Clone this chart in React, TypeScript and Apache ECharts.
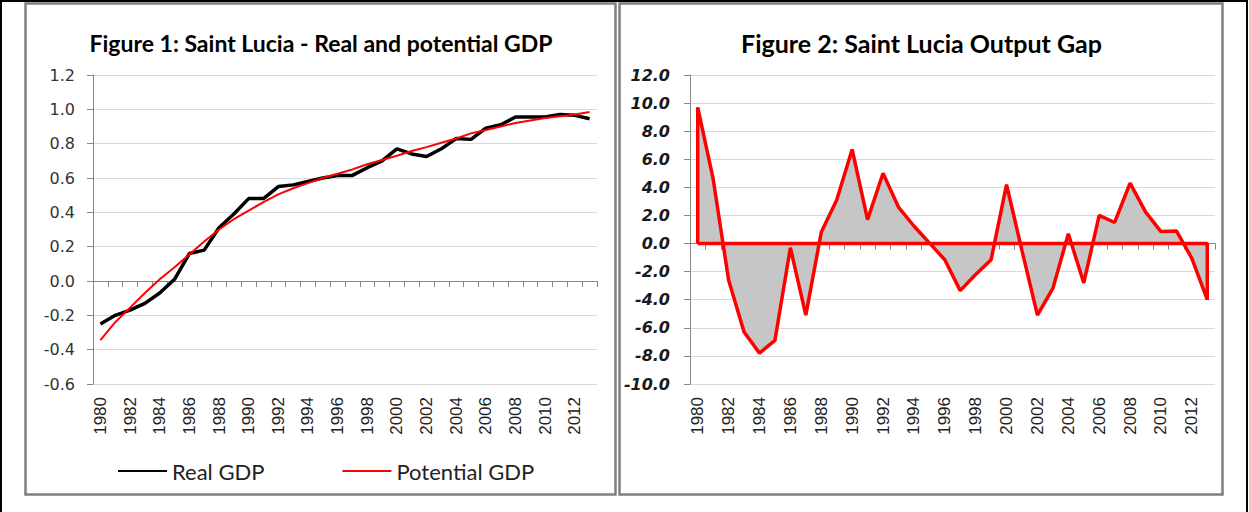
import React, { useEffect, useRef } from 'react';
import * as echarts from 'echarts';

const years = [
  '1980', '1981', '1982', '1983', '1984', '1985', '1986', '1987', '1988', '1989',
  '1990', '1991', '1992', '1993', '1994', '1995', '1996', '1997', '1998', '1999',
  '2000', '2001', '2002', '2003', '2004', '2005', '2006', '2007', '2008', '2009',
  '2010', '2011', '2012', '2013',
];

const realGdp = [
  -0.25, -0.2, -0.17, -0.13, -0.07, 0.01, 0.16, 0.18, 0.31, 0.39,
  0.48, 0.48, 0.55, 0.56, 0.58, 0.6, 0.615, 0.615, 0.66, 0.7,
  0.77, 0.74, 0.725, 0.77, 0.83, 0.825, 0.89, 0.91, 0.955, 0.955,
  0.955, 0.97, 0.965, 0.945,
];

const potentialGdp = [
  -0.345, -0.24, -0.155, -0.07, 0.01, 0.08, 0.155, 0.23, 0.3, 0.36,
  0.41, 0.46, 0.505, 0.54, 0.57, 0.6, 0.625, 0.65, 0.68, 0.705,
  0.73, 0.757, 0.78, 0.805, 0.83, 0.86, 0.88, 0.9, 0.92, 0.935,
  0.95, 0.96, 0.97, 0.985,
];

const outputGap = [
  9.7, 4.6, -2.6, -6.3, -7.8, -6.9, -0.3, -5.1, 0.8, 3.1,
  6.7, 1.7, 5.0, 2.6, 1.25, 0.05, -1.15, -3.35, -2.2, -1.15,
  4.2, -0.5, -5.1, -3.2, 0.7, -2.8, 2.0, 1.5, 4.3, 2.25,
  0.85, 0.9, -1.05, -4.0,
];

const title1 = 'Figure 1: Saint Lucia - Real and potential GDP';
const title2 = 'Figure 2: Saint Lucia Output Gap';
const legendNames = ['Real GDP', 'Potential GDP'];

const gdpAxis = { min: -0.6, max: 1.2, interval: 0.2 };
const gapAxis = { min: -10, max: 12, interval: 2 };

const fmt = (v: number) => (Math.abs(v) < 1e-9 ? 0 : v).toFixed(1);

export default function App() {
  const ref = useRef<HTMLDivElement>(null);

  useEffect(() => {
    if (!ref.current) return;
    const chart = echarts.init(ref.current, undefined, { renderer: 'svg' });

    const outline: [number, number][] = [[0, 0]];
    outputGap.forEach((v, i) => outline.push([i, v]));
    outline.push([outputGap.length - 1, 0]);
    outline.push([0, 0]);

    const axisGray = '#868686';
    const labelAxis = (gridIndex: number) => ({
      gridIndex,
      type: 'category',
      data: years,
      position: 'bottom',
      axisLine: { show: false, onZero: false },
      axisTick: { show: false },
      splitLine: { show: false },
      axisLabel: {
        rotate: 90,
        interval: 1,
        margin: 13,
        fontFamily: 'Liberation Sans',
        fontSize: 17,
        color: '#222',
      },
    });
    const zeroAxis = (gridIndex: number) => ({
      gridIndex,
      type: 'category',
      data: years,
      position: 'bottom',
      axisLine: { show: true, onZero: true, lineStyle: { color: axisGray, width: 1 } },
      axisTick: { show: true, interval: 0, length: 6, lineStyle: { color: axisGray } },
      axisLabel: { show: false },
      splitLine: { show: false },
    });

    chart.setOption({
      animation: false,
      grid: [
        { left: 93, top: 75, width: 504, height: 309 },
        { left: 690, top: 75, width: 525, height: 309 },
      ],
      xAxis: [labelAxis(0), zeroAxis(0), labelAxis(1), zeroAxis(1)],
      yAxis: [
        {
          gridIndex: 0,
          type: 'value',
          min: gdpAxis.min,
          max: gdpAxis.max,
          interval: gdpAxis.interval,
          axisLine: { show: true, lineStyle: { color: axisGray } },
          axisTick: { show: true, length: 6, lineStyle: { color: axisGray } },
          splitLine: { show: true, lineStyle: { color: '#d9d9d9' } },
          axisLabel: {
            formatter: fmt,
            margin: 18,
            fontFamily: 'DejaVu Sans',
            fontSize: 16,
            color: '#333',
          },
        },
        {
          gridIndex: 1,
          type: 'value',
          min: gapAxis.min,
          max: gapAxis.max,
          interval: gapAxis.interval,
          axisLine: { show: true, lineStyle: { color: axisGray } },
          axisTick: { show: true, length: 6, lineStyle: { color: axisGray } },
          splitLine: { show: true, lineStyle: { color: '#d9d9d9' } },
          axisLabel: {
            formatter: fmt,
            margin: 20,
            fontFamily: 'DejaVu Sans',
            fontSize: 16,
            fontWeight: 'bold',
            fontStyle: 'italic',
            color: '#1a1a1a',
          },
        },
      ],
      legend: {
        data: legendNames,
        left: 112,
        top: 455,
        itemWidth: 49,
        itemHeight: 14,
        itemGap: 77,
        itemStyle: { opacity: 0 },
        textStyle: { fontFamily: 'Lato', fontSize: 22, color: '#222' },
      },
      series: [
        {
          name: legendNames[0],
          type: 'line',
          xAxisIndex: 0,
          yAxisIndex: 0,
          data: realGdp,
          symbol: 'none',
          lineStyle: { color: '#000', width: 3.5 },
          itemStyle: { color: '#000' },
          z: 3,
        },
        {
          name: legendNames[1],
          type: 'line',
          xAxisIndex: 0,
          yAxisIndex: 0,
          data: potentialGdp,
          symbol: 'none',
          lineStyle: { color: '#ff0000', width: 2 },
          itemStyle: { color: '#ff0000' },
          z: 4,
        },
        {
          name: 'Output gap area',
          type: 'line',
          xAxisIndex: 2,
          yAxisIndex: 1,
          data: outputGap,
          symbol: 'none',
          lineStyle: { opacity: 0, width: 0 },
          areaStyle: { color: '#c6c6c6', opacity: 1 },
          silent: true,
          z: 2,
        },
        {
          name: 'Output gap',
          type: 'line',
          xAxisIndex: 2,
          yAxisIndex: 1,
          data: outline,
          symbol: 'none',
          lineStyle: { color: '#ff0000', width: 3.5 },
          itemStyle: { color: '#ff0000' },
          z: 3,
        },
      ],
      graphic: [
        {
          type: 'rect',
          shape: { x: 1, y: 1, width: 1246, height: 540 },
          style: { fill: 'none', stroke: '#000', lineWidth: 2 },
          silent: true,
        },
        {
          type: 'rect',
          shape: { x: 25.5, y: 3.5, width: 590, height: 491 },
          style: { fill: 'none', stroke: '#7f7f7f', lineWidth: 2.5 },
          silent: true,
        },
        {
          type: 'rect',
          shape: { x: 619.5, y: 3.5, width: 603, height: 491 },
          style: { fill: 'none', stroke: '#7f7f7f', lineWidth: 2.5 },
          silent: true,
        },
        {
          type: 'text',
          x: 321,
          y: 43,
          style: {
            text: title1,
            align: 'center',
            verticalAlign: 'middle',
            fontFamily: 'Lato',
            fontWeight: 'bold',
            fontSize: 23,
            fill: '#000',
          },
        },
        {
          type: 'text',
          x: 921.5,
          y: 43,
          style: {
            text: title2,
            align: 'center',
            verticalAlign: 'middle',
            fontFamily: 'Lato',
            fontWeight: 'bold',
            fontSize: 25,
            fill: '#000',
          },
        },
      ],
    });

    return () => chart.dispose();
  }, []);

  return (
    <div
      ref={ref}
      style={{ position: 'absolute', left: 0, top: 0, width: 1249, height: 512, background: '#fff' }}
    />
  );
}
